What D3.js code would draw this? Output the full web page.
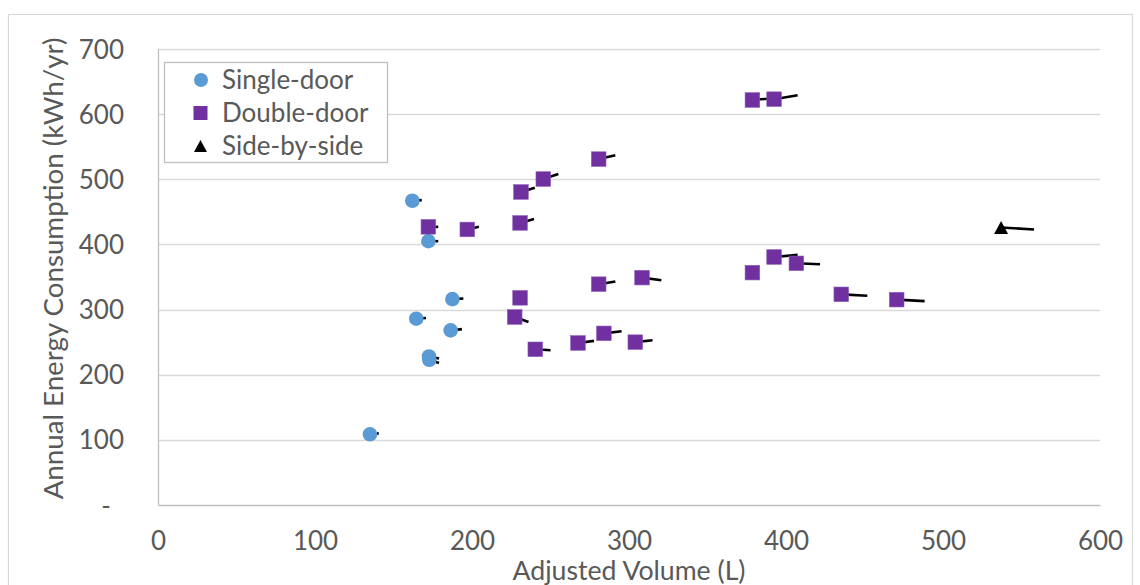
<!DOCTYPE html>
<html>
<head>
<meta charset="utf-8">
<script src="https://cdn.jsdelivr.net/npm/d3@7"></script>
<style>
  html, body { margin: 0; padding: 0; background: #fff; }
  svg { display: block; }
  text { font-family: Lato, "Open Sans", sans-serif; fill: #595959; }
</style>
</head>
<body>
<svg id="chart" width="1140" height="585"></svg>
<script>
// ---- data ----
const seriesNames = ["Single-door", "Double-door", "Side-by-side"];

const singleVol    = [135, 162, 172.2, 187.5, 164.5, 186.4, 172.6, 172.8];
const singleKwh    = [108.5, 467, 405, 316, 286, 268, 228, 223];
const singleVolEnd = [140.6, 168, 178.5, 194.5, 170.7, 193.6, 179, 179];
const singleKwhEnd = [110, 468, 405, 317, 287, 270, 225, 218];

const doubleVol    = [172.2, 197, 280.7, 245.4, 231.2, 230.6, 230.6, 227.2, 280.7, 308.3, 240.3, 267.5, 284, 304, 378.6, 392.4, 378.6, 392.4, 406.6, 435.2, 470.5];
const doubleKwh    = [427, 423, 531, 500.4, 480.5, 433, 318, 288.6, 339, 349, 239, 248.7, 263.5, 250, 621.7, 623, 356.7, 380.7, 371, 323.4, 315.2];
const doubleVolEnd = [178.5, 204.4, 291.3, 255, 240, 239.5, 230.6, 236, 291.3, 320.6, 250, 277.7, 295.3, 315, 390, 407.4, 378.6, 407.4, 421.7, 451.8, 488.3];
const doubleKwhEnd = [427, 427, 537, 508, 487, 439, 318, 281, 343, 345, 237.5, 252, 266.6, 253, 624, 629, 356.7, 384, 369.5, 321.3, 313];

const sideVol    = [537];
const sideKwh    = [426];
const sideVolEnd = [558];
const sideKwhEnd = [423];

const xTicks = [0, 100, 200, 300, 400, 500, 600];
const yTicks = [0, 100, 200, 300, 400, 500, 600, 700];
const xTitle = "Adjusted Volume (L)";
const yTitle = "Annual Energy Consumption (kWh/yr)";

// ---- layout ----
const svg = d3.select("#chart");
const plot = { left: 158, right: 1100, top: 49, bottom: 505 };
const x = d3.scaleLinear().domain([0, 600]).range([plot.left, plot.right]);
const y = d3.scaleLinear().domain([0, 700]).range([plot.bottom, plot.top]);
const FS = 26;

function fitWidth(sel, target) {
  const node = sel.node();
  const w = node.getComputedTextLength();
  const fs = parseFloat(sel.attr("font-size"));
  if (w > 0) sel.attr("font-size", fs * target / w);
}

svg.append("rect").attr("width", 1140).attr("height", 585).attr("fill", "#fff");
// outer chart border
svg.append("rect").attr("x", 8.5).attr("y", 14.5).attr("width", 1124).attr("height", 600)
  .attr("fill", "none").attr("stroke", "#D9D9D9").attr("stroke-width", 1.2);

// gridlines
svg.append("g").selectAll("line").data(yTicks.filter(d => d > 0)).join("line")
  .attr("x1", plot.left).attr("x2", plot.right)
  .attr("y1", d => Math.round(y(d)) + 0.5).attr("y2", d => Math.round(y(d)) + 0.5)
  .attr("stroke", "#D9D9D9").attr("stroke-width", 1.3);

// axes
const xAxis = d3.axisBottom(x).tickValues(xTicks).tickSize(0).tickPadding(0).tickFormat(d3.format("d"));
const gx = svg.append("g").attr("transform", `translate(0,${plot.bottom})`).call(xAxis);
gx.select(".domain").attr("stroke", "#BFBFBF").attr("stroke-width", 1.3);
gx.selectAll("text").attr("dy", null).attr("y", 45).attr("font-size", FS).attr("fill", "#595959");

const yAxis = d3.axisLeft(y).tickValues(yTicks).tickSize(0).tickPadding(0)
  .tickFormat(d => d === 0 ? "-" : d3.format("d")(d));
const gy = svg.append("g").attr("transform", `translate(${plot.left},0)`).call(yAxis);
gy.select(".domain").attr("stroke", "#BFBFBF").attr("stroke-width", 1.3);
gy.selectAll("text").attr("x", d => d === 0 ? -47 : -34).attr("dy", "0.35em")
  .attr("font-size", FS).attr("fill", "#595959");
gy.selectAll(".tick line").remove();
gx.selectAll(".tick line").remove();

// axis titles
const xt = svg.append("text").attr("x", (plot.left + plot.right) / 2).attr("y", 580)
  .attr("text-anchor", "middle").attr("font-size", FS).text(xTitle);
fitWidth(xt, 233);
const yt = svg.append("text").attr("transform", `translate(63,${(37 + 500) / 2}) rotate(-90)`)
  .attr("text-anchor", "middle").attr("font-size", FS).text(yTitle);
fitWidth(yt, 462);

// connector lines (behind markers)
function toPairs(v, k, v2, k2) { return v.map((d, i) => ({ x: d, y: k[i], x2: v2[i], y2: k2[i] })); }
const single = toPairs(singleVol, singleKwh, singleVolEnd, singleKwhEnd);
const dbl = toPairs(doubleVol, doubleKwh, doubleVolEnd, doubleKwhEnd);
const side = toPairs(sideVol, sideKwh, sideVolEnd, sideKwhEnd);

const lines = svg.append("g");
[single, dbl, side].forEach(arr => {
  lines.selectAll(null).data(arr.filter(d => d.x !== d.x2 || d.y !== d.y2)).join("line")
    .attr("x1", d => x(d.x)).attr("y1", d => y(d.y))
    .attr("x2", d => x(d.x2)).attr("y2", d => y(d.y2))
    .attr("stroke", "#000").attr("stroke-width", 2.6);
});

const circleColor = "#5B9BD5", squareColor = "#7030A0", triColor = "#000";

const markers = svg.append("g");
markers.selectAll(".c").data(single).join("circle")
  .attr("cx", d => x(d.x)).attr("cy", d => y(d.y)).attr("r", 7.3).attr("fill", circleColor);
markers.selectAll(".s").data(dbl).join("rect")
  .attr("x", d => x(d.x) - 7.3).attr("y", d => y(d.y) - 7.3).attr("width", 14.6).attr("height", 14.6)
  .attr("fill", squareColor).attr("stroke", "#8a5bb8").attr("stroke-width", 0.6);
markers.selectAll(".t").data(side).join("path")
  .attr("transform", d => `translate(${x(d.x)},${y(d.y)})`)
  .attr("d", "M0,-6.5 L7,6.5 L-7,6.5 Z").attr("fill", triColor);

// legend
const lg = svg.append("g");
lg.append("rect").attr("x", 164.5).attr("y", 62.5).attr("width", 223).attr("height", 100)
  .attr("fill", "#fff").attr("stroke", "#BFBFBF").attr("stroke-width", 1.3);
const rows = [80, 113, 146];
lg.append("circle").attr("cx", 201).attr("cy", rows[0]).attr("r", 7).attr("fill", circleColor);
lg.append("rect").attr("x", 193.5).attr("y", rows[1] - 7).attr("width", 14).attr("height", 14).attr("fill", squareColor);
lg.append("path").attr("transform", `translate(200.5,${rows[2]})`).attr("d", "M0,-6 L6.5,6 L-6.5,6 Z").attr("fill", triColor);
lg.selectAll(".lt").data(seriesNames).join("text")
  .attr("x", 222).attr("y", (d, i) => rows[i]).attr("dy", "0.35em").attr("font-size", FS).text(d => d);
</script>
</body>
</html>
